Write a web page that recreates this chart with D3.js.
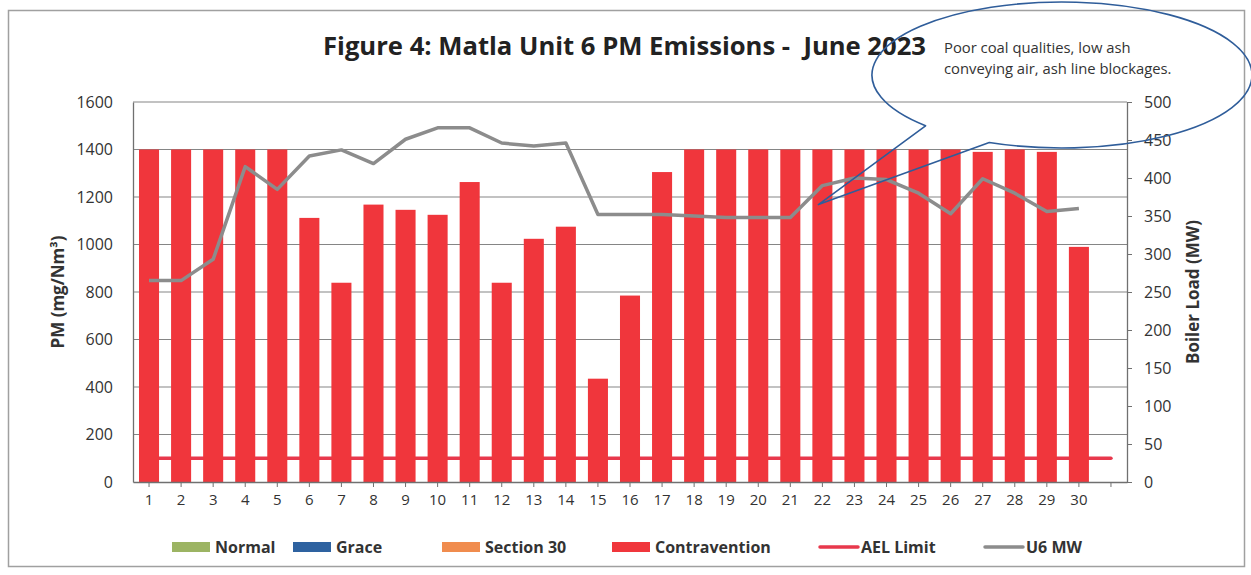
<!DOCTYPE html>
<html>
<head>
<meta charset="utf-8">
<script src="https://cdn.jsdelivr.net/npm/d3@7"></script>
<style>
  body { margin: 0; background: #fff; }
  text { font-family: "Open Sans", Lato, sans-serif; fill: #333; }
</style>
</head>
<body>
<div id="chart"></div>
<script>
// days of June 2023 (31st slot is an empty category, as in the original sheet)
const days = ["1","2","3","4","5","6","7","8","9","10","11","12","13","14","15",
  "16","17","18","19","20","21","22","23","24","25","26","27","28","29","30",""];
const pmValues = [1400,1400,1400,1400,1400,1112,839,1168,1146,1125,1263,839,1024,1075,435,
  785,1305,1400,1400,1400,1400,1400,1400,1400,1400,1400,1390,1400,1390,990];
const mwValues = [265,265,293,415,385,429,437,419,451,466,466,446,442,446,352,
  352,352,350,348,348,348,390,400,398,380,353,399,380,356,360];
const aelLimit = 100;
const pmTicks = [0,200,400,600,800,1000,1200,1400,1600];
const mwTicks = [0,50,100,150,200,250,300,350,400,450,500];
const legendItems = [
  { name: "Normal", color: "#9cb463", type: "box", x: 172 },
  { name: "Grace", color: "#2e62a0", type: "box", x: 293 },
  { name: "Section 30", color: "#f08c4e", type: "box", x: 442 },
  { name: "Contravention", color: "#f0363c", type: "box", x: 612 },
  { name: "AEL Limit", color: "#e8384c", type: "line", x: 820 },
  { name: "U6 MW", color: "#8c8c8c", type: "line", x: 985 }
];
const calloutLines = ["Poor coal qualities, low ash", "conveying air, ash line blockages."];

const W = 1251, H = 575;
const margin = { top: 102, right: 124, bottom: 93, left: 133 };
const width = W - margin.left - margin.right;
const height = H - margin.top - margin.bottom;

const svg = d3.select("#chart").append("svg")
  .attr("width", W).attr("height", H);

// outer chart border
svg.append("rect")
  .attr("x", 8.5).attr("y", 10.5).attr("width", 1236).attr("height", 556)
  .attr("fill", "none").attr("stroke", "#a0a0a0").attr("stroke-width", 1.5);

const x = d3.scaleBand().domain(days).range([0, width])
  .paddingInner(0.375).paddingOuter(0.1875);
const y = d3.scaleLinear().domain([0, 1600]).range([height, 0]);
const yR = d3.scaleLinear().domain([0, 500]).range([height, 0]);
const cx = d => x(d) + x.bandwidth() / 2;

const g = svg.append("g")
  .attr("transform", "translate(" + margin.left + "," + margin.top + ")");

// gridlines
g.append("g").selectAll("line")
  .data(pmTicks.slice(1))
  .enter().append("line")
  .attr("x1", 0).attr("x2", width)
  .attr("y1", d => y(d)).attr("y2", d => y(d))
  .attr("stroke", "#858585").attr("stroke-width", 1.2);

// AEL limit (sits behind the bars)
g.append("line")
  .attr("x1", cx(days[0])).attr("x2", cx(days[days.length - 1]))
  .attr("y1", y(aelLimit)).attr("y2", y(aelLimit))
  .attr("stroke", "#e8384c").attr("stroke-width", 3.5)
  .attr("stroke-linecap", "round");

// contravention bars
g.selectAll(".bar")
  .data(pmValues)
  .enter().append("rect")
  .attr("class", "bar")
  .attr("x", (d, i) => x(days[i]))
  .attr("y", d => y(d))
  .attr("width", x.bandwidth())
  .attr("height", d => height - y(d))
  .attr("fill", "#f0363c");

// U6 MW line
const mwLine = d3.line()
  .x((d, i) => cx(days[i]))
  .y(d => yR(d));
g.append("path")
  .datum(mwValues)
  .attr("d", mwLine)
  .attr("fill", "none")
  .attr("stroke", "#8c8c8c")
  .attr("stroke-width", 3.5)
  .attr("stroke-linejoin", "round");

// axes
const xAxis = g.append("g")
  .attr("transform", "translate(0," + height + ")")
  .call(d3.axisBottom(x).tickSize(5).tickPadding(7).tickSizeOuter(0));
xAxis.selectAll("text").style("font-size", "15px").style("fill", "#333");

const yAxis = g.append("g")
  .call(d3.axisLeft(y).tickValues(pmTicks).tickFormat(d3.format("d"))
    .tickSize(0).tickPadding(20));
yAxis.selectAll("text").style("font-size", "16px").style("fill", "#333");

const yAxisR = g.append("g")
  .attr("transform", "translate(" + width + ",0)")
  .call(d3.axisRight(yR).tickValues(mwTicks).tickSize(5).tickPadding(12).tickSizeOuter(0));
yAxisR.selectAll("text").style("font-size", "16px").style("fill", "#333");

g.selectAll(".domain").attr("stroke", "#707070").attr("stroke-width", 1.3);
g.selectAll(".tick line").attr("stroke", "#707070");

// axis titles
svg.append("text")
  .attr("transform", "translate(64," + (margin.top + height / 2) + ") rotate(-90)")
  .attr("text-anchor", "middle")
  .style("font-size", "17px").style("font-weight", "bold")
  .text("PM (mg/Nm³)");
svg.append("text")
  .attr("transform", "translate(1199," + (margin.top + height / 2) + ") rotate(-90)")
  .attr("text-anchor", "middle")
  .style("font-size", "17px").style("font-weight", "bold")
  .text("Boiler Load (MW)");

// title
svg.append("text")
  .attr("x", 323).attr("y", 55)
  .attr("textLength", 603).attr("lengthAdjust", "spacingAndGlyphs")
  .style("font-size", "25px").style("font-weight", "bold").style("fill", "#222")
  .style("white-space", "pre")
  .text("Figure 4: Matla Unit 6 PM Emissions -  June 2023");

// legend
const leg = svg.append("g").selectAll("g")
  .data(legendItems)
  .enter().append("g")
  .attr("transform", d => "translate(" + d.x + ",547)");
leg.filter(d => d.type === "box").append("rect")
  .attr("x", 0).attr("y", -5).attr("width", 38).attr("height", 10)
  .attr("fill", d => d.color);
leg.filter(d => d.type === "line").append("line")
  .attr("x1", 0).attr("x2", 38).attr("y1", 0).attr("y2", 0)
  .attr("stroke", d => d.color).attr("stroke-width", 3.5)
  .attr("stroke-linecap", "round");
leg.append("text")
  .attr("x", d => d.type === "box" ? 43 : 41).attr("y", 6)
  .style("font-size", "16px").style("font-weight", "bold").style("fill", "#333")
  .text(d => d.name);

// hand-drawn callout bubble pointing at day 22 on the MW line
const ecx = 1062, ecy = 75, erx = 190, ery = 73;
const pt = a => [ecx + erx * Math.cos(a), ecy + ery * Math.sin(a)];
const a1 = pt(Math.PI * 0.755), a2 = pt(Math.PI * 0.625);
const tip = [margin.left + cx("22") - 4, margin.top + yR(365)];
const bubblePath = "M" + a1 + " A" + erx + "," + ery + " 0 1 1 " + a2 +
  " L" + tip + " Z";
svg.append("path")
  .attr("d", bubblePath)
  .attr("fill", "none")
  .attr("stroke", "#2f5d9a")
  .attr("stroke-width", 1.6)
  .attr("stroke-linejoin", "round");

svg.append("g").selectAll("text")
  .data(calloutLines)
  .enter().append("text")
  .attr("x", 944).attr("y", (d, i) => 53 + i * 21)
  .style("font-size", "14.8px").style("fill", "#333")
  .text(d => d);
</script>
</body>
</html>
